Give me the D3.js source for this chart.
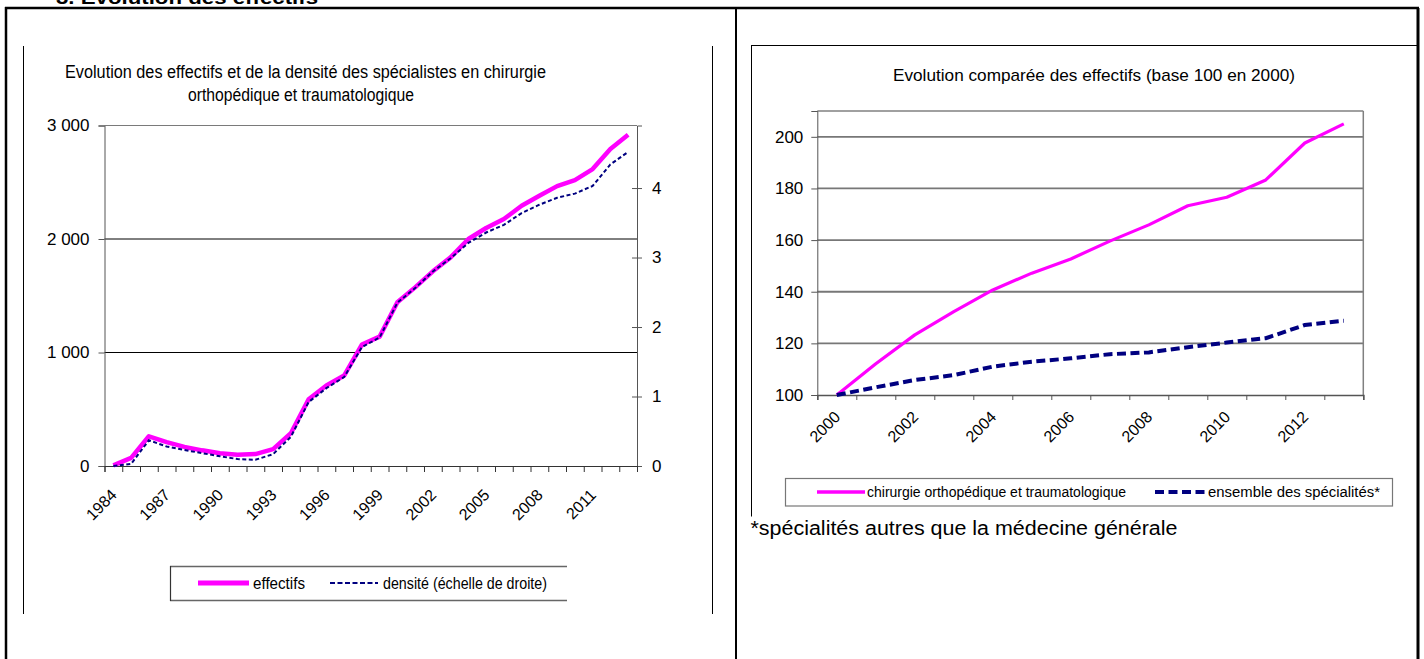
<!DOCTYPE html>
<html><head><meta charset="utf-8">
<script src="https://cdn.jsdelivr.net/npm/d3@7"></script>
<style>body{margin:0;background:#fff}svg{display:block}</style>
</head><body>
<svg id="c" width="1424" height="659"></svg>
<script>
// ---------- DATA ----------
const years1 = d3.range(1984, 2014);
const effectifs = [5, 72, 262, 210, 168, 138, 112, 100, 105, 148, 289, 588, 709, 797, 1070, 1140, 1442, 1574, 1715, 1838, 2000, 2097, 2176, 2293, 2381, 2466, 2519, 2616, 2792, 2918];
const densite = [0, 0.03, 0.37, 0.28, 0.23, 0.185, 0.14, 0.10, 0.09, 0.17, 0.42, 0.92, 1.12, 1.28, 1.71, 1.85, 2.35, 2.56, 2.80, 2.99, 3.21, 3.36, 3.47, 3.64, 3.76, 3.86, 3.92, 4.03, 4.34, 4.52];
const years1Labels = [1984, 1987, 1990, 1993, 1996, 1999, 2002, 2005, 2008, 2011];
const leftTicks = [0, 1000, 2000, 3000];
const rightTicks = [0, 1, 2, 3, 4];

const years2 = d3.range(2000, 2014);
const chirurgie = [100, 112.1, 123.3, 132.3, 140.7, 147.2, 152.7, 159.6, 165.9, 173.3, 176.6, 183.3, 197.6, 205];
const ensemble = [100, 103, 105.8, 107.7, 111, 112.9, 114.2, 115.8, 116.5, 118.5, 120.3, 122, 127.1, 128.8];
const years2Labels = [2000, 2002, 2004, 2006, 2008, 2010, 2012];
const y2Ticks = [100, 120, 140, 160, 180, 200];

const heading = "3. Evolution des effectifs";
const title1a = "Evolution des effectifs et de la densité des spécialistes en chirurgie";
const title1b = "orthopédique et traumatologique";
const leg1a = "effectifs";
const leg1b = "densité (échelle de droite)";
const title2 = "Evolution comparée des effectifs  (base 100 en 2000)";
const leg2a = "chirurgie orthopédique et traumatologique";
const leg2b = "ensemble des spécialités*";
const footnote = "*spécialités autres que la médecine générale";

// ---------- SETUP ----------
const svg = d3.select("#c");
const SANS = "'Liberation Sans', Arial, sans-serif";
const NARROW = "'Liberation Sans Narrow', 'Liberation Sans', Arial, sans-serif";
const PINK = "#ff00ff", NAVY = "#000080";
const fr = d3.formatLocale({decimal: ",", thousands: "\u00a0", grouping: [3], currency: ["", "€"]});
const fmtK = fr.format(",");

function line(x1, y1, x2, y2, w, c) {
  svg.append("line").attr("x1", x1).attr("y1", y1).attr("x2", x2).attr("y2", y2)
    .attr("stroke", c || "#000").attr("stroke-width", w || 1);
}
function text(t, x, y, opts) {
  const o = opts || {};
  const el = svg.append("text").attr("x", x).attr("y", y).text(t)
    .attr("font-family", o.family || SANS).attr("font-size", o.size || 16)
    .attr("fill", "#000").attr("text-anchor", o.anchor || "start");
  if (o.weight) el.attr("font-weight", o.weight);
  if (o.len) el.attr("textLength", o.len).attr("lengthAdjust", "spacingAndGlyphs");
  return el;
}

svg.append("rect").attr("width", 1424).attr("height", 659).attr("fill", "#fff");

// ---------- PAGE FRAME ----------
text(heading, 56, 4, {size: 19, weight: "bold", len: 262});
line(5, 8, 1419, 8, 2.5);
line(6, 7, 6, 659, 2.5);
line(736, 8, 736, 659, 2);
line(1418, 8, 1418, 659, 3);

// ---------- LEFT CHART ----------
line(23.5, 46, 23.5, 614, 1);
line(712.5, 46, 712.5, 614, 1);
text(title1a, 65, 78, {size: 18, family: NARROW, len: 481});
text(title1b, 188, 101, {size: 18, family: NARROW, len: 226});

const L = {x0: 104.5, x1: 637, y0: 466, y1: 125.5};
const xb1 = d3.scaleBand().domain(years1).range([L.x0, L.x1]);
const xc1 = d => xb1(d) + xb1.bandwidth() / 2;
const xi1 = d3.scaleLinear().domain([0, years1.length]).range([L.x0, L.x1]);
const yL = d3.scaleLinear().domain([0, 3000]).range([L.y0, L.y1]);
const yR = d3.scaleLinear().domain([0, 4.9]).range([L.y0, L.y1]);

// gridlines
const gL = svg.append("g");
gL.selectAll("line.g").data([1000, 2000]).join("line")
  .attr("x1", L.x0).attr("x2", L.x1).attr("y1", d => yL(d)).attr("y2", d => yL(d))
  .attr("stroke", "#000").attr("stroke-width", 1);
line(L.x0, L.y1, L.x1, L.y1, 1.2, "#7a7a7a");

// left axis
const axL = svg.append("g").attr("transform", `translate(${L.x0},0)`)
  .call(d3.axisLeft(yL).tickValues(leftTicks).tickSize(6).tickPadding(9).tickFormat(fmtK));
axL.select(".domain").attr("stroke", "#555");
axL.selectAll(".tick line").attr("stroke", "#555");
axL.selectAll("text").attr("font-family", SANS).attr("font-size", 17).attr("fill", "#000");

// right axis (cross ticks)
const axR = svg.append("g").attr("transform", `translate(${L.x1},0)`)
  .call(d3.axisRight(yR).tickValues(rightTicks).tickSize(5).tickPadding(10).tickFormat(d3.format("d")));
axR.select(".domain").attr("stroke", "#555");
axR.selectAll(".tick line").attr("stroke", "#555").attr("x1", -5);
axR.selectAll("text").attr("font-family", SANS).attr("font-size", 17).attr("fill", "#000");

// bottom axis ticks between categories
const axB = svg.append("g").attr("transform", `translate(0,${L.y0})`)
  .call(d3.axisBottom(xi1).tickValues(d3.range(years1.length + 1)).tickSize(6).tickFormat(""));
axB.select(".domain").attr("stroke", "#333");
axB.selectAll(".tick line").attr("stroke", "#333");
svg.append("g").selectAll("text").data(years1Labels).join("text")
  .attr("transform", d => `translate(${xc1(d) + 4.5},${L.y0 + 30}) rotate(-45)`)
  .attr("text-anchor", "end").attr("font-family", SANS).attr("font-size", 16).text(d => d);

// series
const dataL = years1.map((y, i) => ({y, e: effectifs[i], d: densite[i]}));
svg.append("path").datum(dataL).attr("fill", "none").attr("stroke", PINK).attr("stroke-width", 4.5)
  .attr("stroke-linejoin", "round")
  .attr("d", d3.line().x(d => xc1(d.y)).y(d => yL(d.e)));
svg.append("path").datum(dataL).attr("fill", "none").attr("stroke", NAVY).attr("stroke-width", 2)
  .attr("stroke-dasharray", "4,2.5")
  .attr("d", d3.line().x(d => xc1(d.y)).y(d => yR(d.d)));

// legend
line(170, 566.5, 567, 566.5, 1.5, "#666");
line(170, 600.5, 567, 600.5, 1.5, "#666");
line(170.5, 566, 170.5, 601, 1.2, "#333");
line(198, 583, 249, 583, 5, PINK);
text(leg1a, 253, 589, {size: 16, family: NARROW, len: 52});
svg.append("line").attr("x1", 330).attr("x2", 378).attr("y1", 583).attr("y2", 583)
  .attr("stroke", NAVY).attr("stroke-width", 2).attr("stroke-dasharray", "5,2.5");
text(leg1b, 383, 589, {size: 16, family: NARROW, len: 164});

// ---------- RIGHT CHART ----------
line(751.5, 45.5, 1417, 45.5, 1);
line(751.5, 45, 751.5, 516.5, 1);
text(title2, 893, 81, {size: 17, family: NARROW, len: 402});

const R = {x0: 817.3, x1: 1363.3, y0: 395, y1: 111};
const xb2 = d3.scaleBand().domain(years2).range([R.x0, R.x1]);
const xc2 = d => xb2(d) + xb2.bandwidth() / 2;
const xi2 = d3.scaleLinear().domain([0, years2.length]).range([R.x0, R.x1]);
const y2 = d3.scaleLinear().domain([100, 210]).range([R.y0, R.y1]);

svg.append("g").selectAll("line").data(y2Ticks.slice(1)).join("line")
  .attr("x1", R.x0).attr("x2", R.x1).attr("y1", d => y2(d)).attr("y2", d => y2(d))
  .attr("stroke", "#777").attr("stroke-width", 1.8);
line(R.x0, R.y1, R.x1, R.y1, 1.5, "#808080");
line(R.x1, R.y1, R.x1, R.y0, 1.5, "#808080");

const ay2 = svg.append("g").attr("transform", `translate(${R.x0},0)`)
  .call(d3.axisLeft(y2).tickValues(y2Ticks).tickSize(6).tickPadding(8).tickFormat(d3.format("d")));
ay2.select(".domain").attr("stroke", "#555");
ay2.selectAll(".tick line").attr("stroke", "#555");
ay2.selectAll("text").attr("font-family", SANS).attr("font-size", 17).attr("fill", "#000");

const ax2 = svg.append("g").attr("transform", `translate(0,${R.y0})`)
  .call(d3.axisBottom(xi2).tickValues(d3.range(years2.length + 1)).tickSize(5).tickFormat(""));
ax2.select(".domain").attr("stroke", "#555").attr("stroke-width", 1.5);
ax2.selectAll(".tick line").attr("stroke", "#555");
svg.append("g").selectAll("text").data(years2Labels).join("text")
  .attr("transform", d => `translate(${xc2(d) + 4.5},${R.y0 + 23}) rotate(-45)`)
  .attr("text-anchor", "end").attr("font-family", SANS).attr("font-size", 16).text(d => d);

const dataR = years2.map((y, i) => ({y, c: chirurgie[i], e: ensemble[i]}));
svg.append("path").datum(dataR).attr("fill", "none").attr("stroke", PINK).attr("stroke-width", 3.2)
  .attr("stroke-linejoin", "round")
  .attr("d", d3.line().x(d => xc2(d.y)).y(d => y2(d.c)));
svg.append("path").datum(dataR).attr("fill", "none").attr("stroke", NAVY).attr("stroke-width", 4)
  .attr("stroke-dasharray", "9,4.5")
  .attr("d", d3.line().x(d => xc2(d.y)).y(d => y2(d.e)));

// legend
svg.append("rect").attr("x", 785.5).attr("y", 478.5).attr("width", 607).attr("height", 27.5)
  .attr("fill", "#fff").attr("stroke", "#777").attr("stroke-width", 1.2);
line(817, 492, 865, 492, 3.5, PINK);
text(leg2a, 867, 497, {size: 14, family: NARROW, len: 259});
svg.append("line").attr("x1", 1155).attr("x2", 1206).attr("y1", 492).attr("y2", 492)
  .attr("stroke", NAVY).attr("stroke-width", 4).attr("stroke-dasharray", "9,4.5");
text(leg2b, 1208, 497, {size: 14, family: NARROW, len: 172});

text(footnote, 750.5, 535, {size: 20, len: 427});
</script>
</body></html>
